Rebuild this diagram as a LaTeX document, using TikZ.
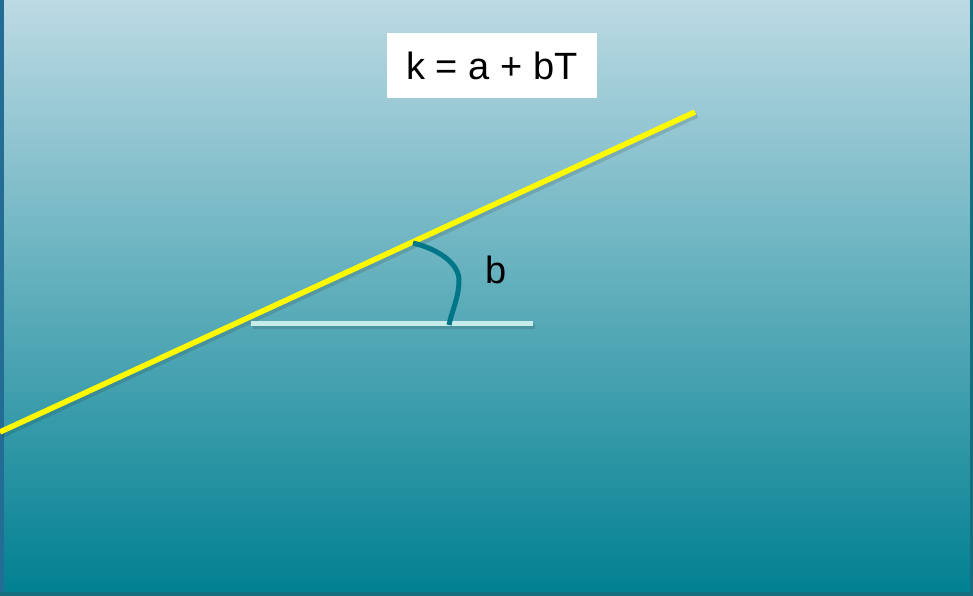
\documentclass[tikz,border=0pt]{standalone}
\usepackage{fontspec}
\setmainfont{Liberation Sans}
\definecolor{bgtop}{RGB}{188,218,228}
\definecolor{bgbot}{RGB}{0,128,145}
\definecolor{yel}{RGB}{255,250,0}
\definecolor{hline}{RGB}{200,236,234}
\definecolor{arccol}{RGB}{0,118,136}
\definecolor{edgeblue}{RGB}{34,108,150}
\definecolor{edgeteal}{RGB}{20,110,125}
\begin{document}
\begin{tikzpicture}[x=1pt,y=-1pt,
  lbl/.style={font=\fontsize{38}{42}\selectfont, text=black, inner sep=0pt},
  eqbox/.style={fill=white, minimum width=210pt, minimum height=65pt, lbl},
  shadowline/.style={line width=6pt, draw=black, opacity=0.12}]
\useasboundingbox (0,0) rectangle (973,596);
\shade[top color=bgtop, bottom color=bgbot] (0,0) rectangle (973,596);
\fill[edgeblue] (0,0) rectangle (4,596);
\fill[edgeteal] (0,592) rectangle (973,596);
\fill[edgeteal] (970,0) rectangle (973,596);
% coordinates
\coordinate (yA) at (0,432);
\coordinate (yB) at (695,112);
\coordinate (hA) at (251,323);
\coordinate (hB) at (533,323);
% shadows
\draw[shadowline] ([shift={(2,3)}]yA) -- ([shift={(2,3)}]yB);
\draw[shadowline, line width=5pt] ([shift={(2,3)}]hA) -- ([shift={(2,3)}]hB);
% lines
\draw[hline, line width=5pt] (hA) -- (hB);
\draw[yel, line width=5.5pt] (yA) -- (yB);
\coordinate (a1) at (413,243);
\coordinate (a2) at (459,279);
\coordinate (a3) at (449,325);
\draw[arccol, line width=5pt] (a1) .. controls (438,249) and (458,263) .. (a2) .. controls (459,298) and (452,310) .. (a3);
\node[eqbox] (eq) at (492,65.5) {k = a + bT};
\node[lbl] (b) at (496,270) {b};
\end{tikzpicture}
\end{document}
